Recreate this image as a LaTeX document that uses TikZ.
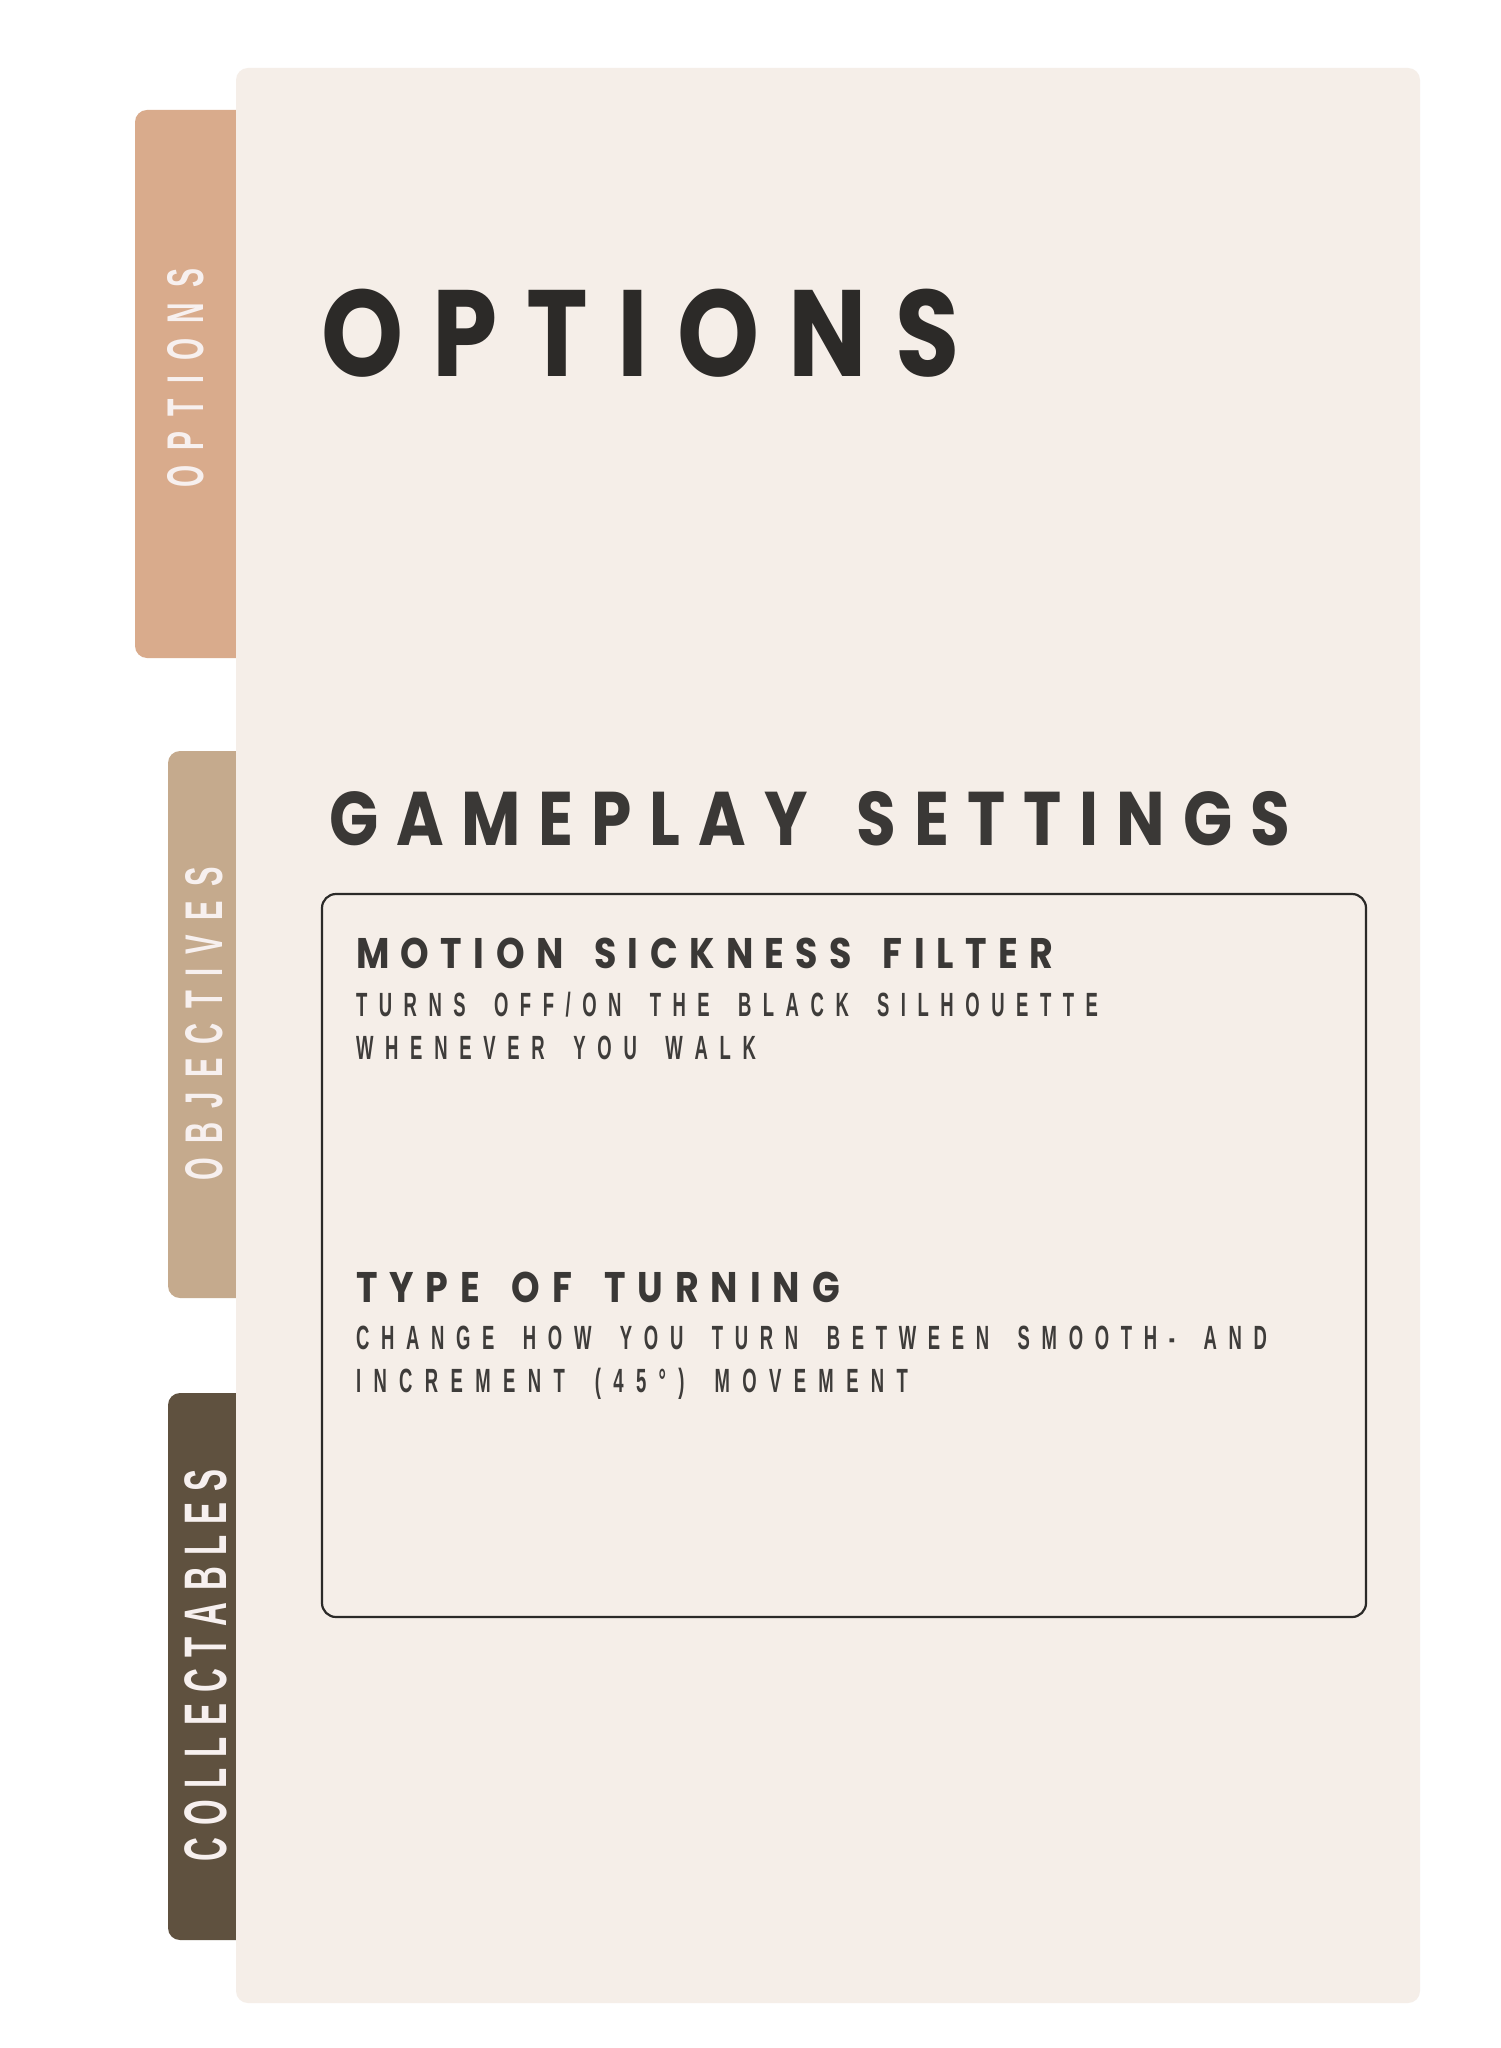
\documentclass[tikz,border=0pt]{standalone}
\usepackage{fontspec}
\newfontfamily\headfont{Poppins Bold}[FakeStretch=0.85]
\newfontfamily\condfont{Liberation Sans Bold}[FakeStretch=0.55]
\definecolor{panelc}{HTML}{F5EEE8}
\definecolor{optabc}{HTML}{D9AB8C}
\definecolor{objtabc}{HTML}{C5AA8D}
\definecolor{coltabc}{HTML}{5F513F}
\definecolor{tabtxt}{HTML}{F7F0EF}
\definecolor{titlec}{HTML}{2C2A28}
\definecolor{headc}{HTML}{3A3836}
\definecolor{bodyc}{HTML}{3E3C3A}
\definecolor{linec}{HTML}{2B2A28}
\makeatletter
\newcommand\spreadtext[2]{\hbox to #1{\spr@A#2\relax}}
\def\spr@A#1{#1\spr@B}
\def\spr@B#1{\ifx#1\relax\else\hfill#1\expandafter\spr@B\fi}
\makeatother
\tikzset{
  txt/.style={inner sep=0pt, outer sep=0pt, anchor=base west},
  tabtext/.style={inner sep=0pt, outer sep=0pt, rotate=90, anchor=center, text=tabtxt},
  tabshape/.style={rounded corners=6pt},
}
\begin{document}
\begin{tikzpicture}[x=0.5pt,y=-0.5pt]
\path[use as bounding box, fill=white] (0,0) rectangle (1500,2048);
% side tabs
\fill[optabc, tabshape] (135,110) rectangle (262,658);
\fill[objtabc, tabshape] (168,751) rectangle (262,1298);
\fill[coltabc, tabshape] (168,1393) rectangle (262,1940);
% main panel
\fill[panelc, rounded corners=6pt] (236,68) rectangle (1420,2003);
% inner settings box
\draw[linec, line width=1.1pt, rounded corners=7pt] (322,894) rectangle (1366,1617);
% tab labels
\node[tabtext] (tabopt) at (186,378) {\condfont\fontsize{25.8pt}{30pt}\selectfont\spreadtext{109.5pt}{OPTIONS}};
\node[tabtext] (tabobj) at (204,1024) {\condfont\fontsize{26.5pt}{30pt}\selectfont\spreadtext{156.5pt}{OBJECTIVES}};
\node[tabtext] (tabcol) at (206,1665) {\condfont\fontsize{30pt}{34pt}\selectfont\spreadtext{196pt}{COLLECTABLES}};
% titles
\node[txt, text=titlec] (title) at (321,377) {\headfont\fontsize{61.4pt}{70pt}\selectfont\spreadtext{319.5pt}{OPTIONS}};
\node[txt, text=headc] (gameplay) at (329,845) {\headfont\fontsize{38pt}{44pt}\selectfont\spreadtext{480.5pt}{GAMEPLAY~SETTINGS}};
% settings
\node[txt, text=headc] (motion) at (356,968) {\headfont\fontsize{21.4pt}{26pt}\selectfont\spreadtext{348.5pt}{MOTION~SICKNESS~FILTER}};
\node[txt, text=bodyc] (motion1) at (356,1016) {\condfont\fontsize{16.8pt}{20pt}\selectfont\spreadtext{371pt}{TURNS~OFF/ON~THE~BLACK~SILHOUETTE}};
\node[txt, text=bodyc] (motion2) at (356,1059) {\condfont\fontsize{16.8pt}{20pt}\selectfont\spreadtext{200pt}{WHENEVER~YOU~WALK}};
\node[txt, text=headc] (turning) at (356,1302) {\headfont\fontsize{21.4pt}{26pt}\selectfont\spreadtext{242pt}{TYPE~OF~TURNING}};
\node[txt, text=bodyc] (turning1) at (356,1349) {\condfont\fontsize{16.8pt}{20pt}\selectfont\spreadtext{455.5pt}{CHANGE~HOW~YOU~TURN~BETWEEN~SMOOTH-~AND}};
\node[txt, text=bodyc] (turning2) at (356,1392) {\condfont\fontsize{16.8pt}{20pt}\selectfont\spreadtext{276pt}{INCREMENT~(45°)~MOVEMENT}};
\end{tikzpicture}
\end{document}
